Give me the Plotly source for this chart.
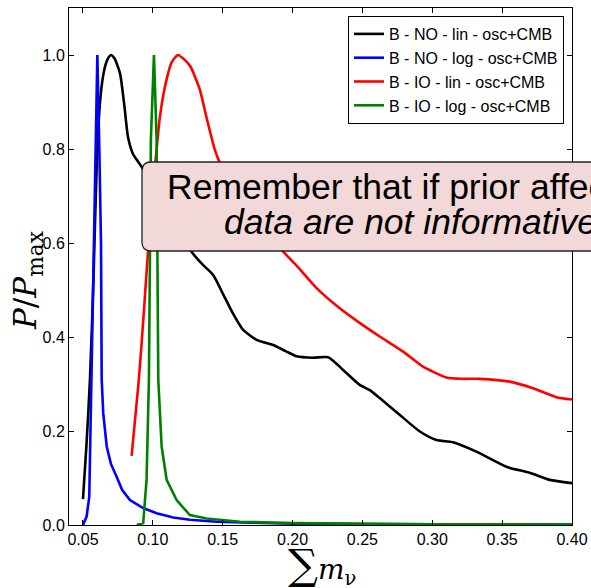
import plotly.graph_objects as go

# ---- data ----
no_lin_x = [0.050, 0.0525, 0.055, 0.0575, 0.060, 0.0625, 0.065, 0.0675, 0.070, 0.0725, 0.0765,
            0.0797, 0.0822, 0.0857, 0.092, 0.100, 0.110, 0.120, 0.1278, 0.135, 0.1432, 0.150,
            0.157, 0.1647, 0.1742, 0.1862, 0.195, 0.2029, 0.2147, 0.2255, 0.2362, 0.2481,
            0.2553, 0.2624, 0.2768, 0.2911, 0.303, 0.3149, 0.3316, 0.353, 0.3697, 0.384, 0.400]
no_lin_y = [0.055, 0.17, 0.31, 0.52, 0.78, 0.91, 0.965, 0.99, 1.0, 0.993, 0.961,
            0.890, 0.826, 0.79, 0.762, 0.72, 0.67, 0.62, 0.581, 0.556, 0.532, 0.493,
            0.452, 0.415, 0.394, 0.383, 0.370, 0.359, 0.356, 0.357, 0.330, 0.298,
            0.287, 0.270, 0.234, 0.199, 0.181, 0.176, 0.156, 0.124, 0.111, 0.096, 0.089]

no_log_x = [0.050, 0.0526, 0.0545, 0.056, 0.0574, 0.059, 0.0603, 0.0617, 0.0629, 0.0634, 0.0645,
            0.067, 0.070, 0.074, 0.078, 0.0836, 0.0931, 0.1027, 0.1146, 0.1265, 0.1456, 0.170,
            0.200, 0.250, 0.300, 0.350, 0.400]
no_log_y = [0.0, 0.018, 0.06, 0.31, 0.606, 0.85, 1.0, 0.80, 0.60, 0.31, 0.238,
            0.167, 0.13, 0.103, 0.075, 0.053, 0.036, 0.025, 0.016, 0.011, 0.007, 0.005,
            0.003, 0.002, 0.0015, 0.001, 0.0008]

io_lin_x = [0.0848, 0.090, 0.0935, 0.0965, 0.100, 0.1027, 0.1051, 0.1087, 0.1134, 0.118, 0.123,
            0.127, 0.130, 0.1337, 0.139, 0.1444, 0.148, 0.160, 0.175, 0.1945, 0.205, 0.2172,
            0.2338, 0.248, 0.2624, 0.2791, 0.2934, 0.3101, 0.322, 0.334, 0.3554, 0.3721,
            0.3888, 0.400]
io_lin_y = [0.147, 0.31, 0.45, 0.58, 0.71, 0.80, 0.869, 0.933, 0.984, 1.0, 0.989,
            0.975, 0.955, 0.926, 0.86, 0.798, 0.77, 0.70, 0.64, 0.578, 0.545, 0.504,
            0.461, 0.43, 0.401, 0.369, 0.337, 0.314, 0.311, 0.311, 0.305, 0.291,
            0.272, 0.267]

io_log_x = [0.0884, 0.0931, 0.0955, 0.0972, 0.0986, 0.1008, 0.1027, 0.1039, 0.1063, 0.1099,
            0.117, 0.1265, 0.1385, 0.1623, 0.200, 0.250, 0.300, 0.400]
io_log_y = [0.0, 0.004, 0.096, 0.309, 0.82, 1.0, 0.82, 0.309, 0.167, 0.096,
            0.053, 0.021, 0.014, 0.007, 0.004, 0.002, 0.0015, 0.001]

series_names = ["B - NO - lin - osc+CMB", "B - NO - log - osc+CMB",
                "B - IO - lin - osc+CMB", "B - IO - log - osc+CMB"]
series_colors = ["#000000", "#0000ff", "#ff0000", "#008000"]
series_smooth = [True, False, True, False]

x_ticks = [0.05, 0.10, 0.15, 0.20, 0.25, 0.30, 0.35, 0.40]
y_ticks = [0.0, 0.2, 0.4, 0.6, 0.8, 1.0]

note_line1 = "Remember that if prior affects the results,"
note_line2 = "data are not informative"

# ---- figure ----
fig = go.Figure()
for i, (xs, ys) in enumerate([(no_lin_x, no_lin_y), (no_log_x, no_log_y),
                              (io_lin_x, io_lin_y), (io_log_x, io_log_y)]):
    line = dict(color=series_colors[i], width=2.6)
    if series_smooth[i]:
        line.update(shape="spline", smoothing=0.6)
    fig.add_trace(go.Scatter(x=xs, y=ys, mode="lines", name=series_names[i],
                             legendgroup=str(i), line=line))

W, H = 591, 588
L, R, T, B = 69, 19, 8, 63
pw, ph = W - L - R, H - T - B

def px2paper_x(px):
    return (px - L) / pw

def px2paper_y(py):
    return (H - B - py) / ph

axis_common = dict(showgrid=False, zeroline=False, showline=True, linecolor="black",
                   linewidth=1, mirror="ticks", ticks="inside", ticklen=5,
                   tickcolor="black", tickwidth=1, automargin=False,
                   tickfont=dict(family="Liberation Sans", size=16, color="black"))

fig.update_layout(
    width=W, height=H, autosize=False,
    margin=dict(l=L, r=R, t=T, b=B, pad=0),
    paper_bgcolor="white", plot_bgcolor="white",
    xaxis=dict(range=[0.04, 0.40], tickvals=x_ticks,
               ticktext=[f"{v:.2f}" for v in x_ticks], **axis_common),
    yaxis=dict(range=[0, 1.1], tickvals=y_ticks,
               ticktext=[f"{v:.1f}" for v in y_ticks], **axis_common),
    legend=dict(x=px2paper_x(564), y=px2paper_y(16), xanchor="right", yanchor="top",
                bordercolor="black", borderwidth=1, bgcolor="white",
                font=dict(family="Liberation Sans", size=16, color="black"),
                tracegroupgap=0),
    showlegend=True,
)

# rounded note box (runs off the right edge of the figure)
x0, x1 = px2paper_x(142), px2paper_x(594)
y0, y1 = px2paper_y(251), px2paper_y(162)
rx, ry = 9 / pw, 9 / ph
path = (f"M {x0+rx},{y1} L {x1},{y1} L {x1},{y0} L {x0+rx},{y0} "
        f"Q {x0},{y0} {x0},{y0+ry} L {x0},{y1-ry} Q {x0},{y1} {x0+rx},{y1} Z")
fig.add_shape(type="path", path=path, xref="paper", yref="paper",
              fillcolor="#f2d8d8", line=dict(color="#222222", width=1.3), layer="above")

fig.add_annotation(x=px2paper_x(165), y=px2paper_y(187), xref="paper", yref="paper",
                   text=note_line1, showarrow=False, xanchor="left", yanchor="middle",
                   font=dict(family="Liberation Sans", size=35.5, color="black"))
fig.add_annotation(x=px2paper_x(222), y=px2paper_y(222), xref="paper", yref="paper",
                   text="<i>" + note_line2 + "</i>", showarrow=False, xanchor="left",
                   yanchor="middle",
                   font=dict(family="Liberation Sans", size=35.5, color="black"))

# axis labels
fig.add_annotation(x=px2paper_x(27), y=px2paper_y(281), xref="paper", yref="paper",
                   text="<i>P</i>/<i>P</i><sub>max</sub>", showarrow=False, textangle=-90,
                   xanchor="center", yanchor="middle",
                   font=dict(family="DejaVu Serif", size=31, color="black"))
fig.add_annotation(x=px2paper_x(322), y=px2paper_y(565), xref="paper", yref="paper",
                   text="<span style='font-size:42px'>∑</span><i>m</i><sub>ν</sub>",
                   showarrow=False, xanchor="center", yanchor="middle",
                   font=dict(family="DejaVu Serif", size=28, color="black"))

fig.write_html("out.html")
